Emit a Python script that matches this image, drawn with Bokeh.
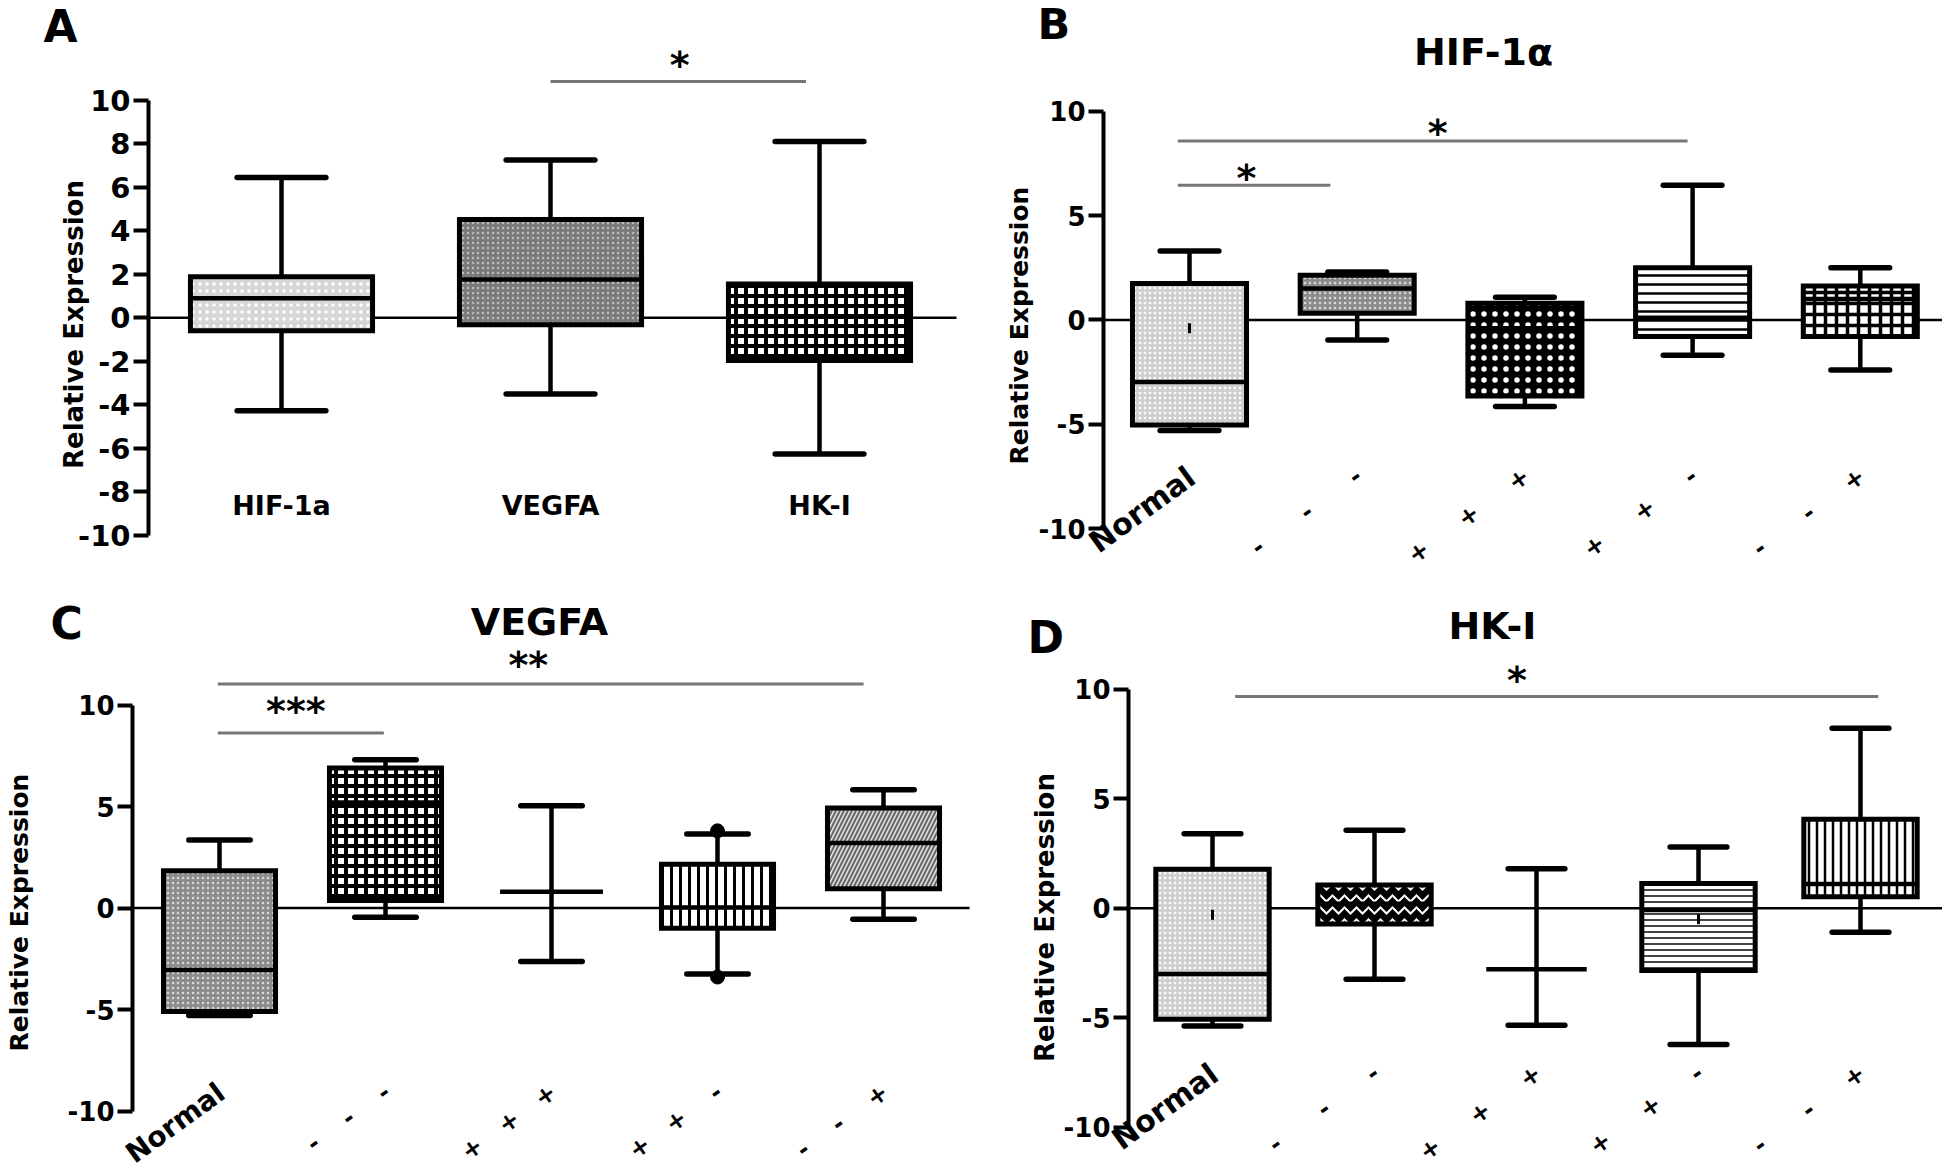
import math
from bokeh.plotting import figure
from bokeh.models import Range1d, FixedTicker, Label, ColumnDataSource
from bokeh.layouts import column, row
from bokeh.embed import file_html
from bokeh.resources import INLINE

FONT = "DejaVu Sans"

# ---------------- data ----------------
A_labels = ["HIF-1a", "VEGFA", "HK-I"]
A_lo  = [-4.27, -3.50, -6.26]
A_q1  = [-0.60, -0.32, -1.96]
A_med = [0.90, 1.76, 0.05]
A_q3  = [1.89, 4.52, 1.55]
A_hi  = [6.45, 7.25, 8.10]
A_sig_from = [2.00]
A_sig_to   = [2.95]
A_sig_y    = [10.85]
A_sig_text = ["*"]
A_star_x   = [2.48]
A_star_y   = [11.60]

group_labels = ["Normal", "- - -", "+ + +", "+ + -", "- - +"]

B_title = "HIF-1α"
B_lo  = [-5.30, -0.96, -4.15, -1.70, -2.40]
B_q1  = [-5.04, 0.32, -3.65, -0.80, -0.80]
B_med = [-2.98, 1.50, -0.40, 0.10, 1.00]
B_q3  = [1.75, 2.14, 0.80, 2.50, 1.62]
B_hi  = [3.30, 2.30, 1.08, 6.45, 2.50]
B_mean_x = [1]
B_mean_y = [-0.40]
B_sig_from = [0.93, 0.93]
B_sig_to   = [1.84, 3.97]
B_sig_y    = [6.45, 8.58]
B_sig_text = ["*", "*"]
B_star_x   = [1.34, 2.48]
B_star_y   = [6.80, 8.95]

C_title = "VEGFA"
C_lo  = [-5.30, -0.45, -2.63, -3.25, -0.55]
C_q1  = [-5.10, 0.37, 0.80, -1.00, 0.95]
C_med = [-3.05, 5.20, 0.80, 0.02, 3.20]
C_q3  = [1.84, 6.90, 0.80, 2.15, 4.93]
C_hi  = [3.35, 7.30, 5.04, 3.65, 5.82]
C_out_x = [4, 4]
C_out_y = [3.80, -3.40]
C_sig_from = [0.99, 0.99]
C_sig_to   = [1.99, 4.88]
C_sig_y    = [8.62, 11.03]
C_sig_text = ["***", "**"]
C_star_x   = [1.46, 2.86]
C_star_y   = [9.70, 11.97]

D_title = "HK-I"
D_lo  = [-5.38, -3.24, -5.35, -6.22, -1.10]
D_q1  = [-5.07, -0.72, -2.79, -2.84, 0.52]
D_med = [-3.00, 0.20, -2.79, -0.08, 1.10]
D_q3  = [1.78, 1.06, -2.79, 1.13, 4.06]
D_hi  = [3.40, 3.56, 1.80, 2.79, 8.22]
D_mean_x = [1, 4]
D_mean_y = [-0.30, -0.50]
D_sig_from = [1.14]
D_sig_to   = [5.11]
D_sig_y    = [9.67]
D_sig_text = ["*"]
D_star_x   = [2.88]
D_star_y   = [10.40]

# ---------------- geometry (page pixels) ----------------
# cx, cy, w, h: canvas; L: y-axis line; R: right end of zero line
# c1: pixel of first category, s: pixels per category; zero: pixel of y=0; pxu: pixels per y unit
GEOM = {
    "A": dict(cx=0, cy=0, w=972, h=580, L=148, R=956, c1=281.0, s=269.0, zero=317.3, pxu=21.77),
    "B": dict(cx=972, cy=0, w=970, h=580, L=1103, R=1942, c1=1189.0, s=167.7, zero=319.4, pxu=20.86),
    "C": dict(cx=0, cy=580, w=972, h=594, L=132, R=969, c1=219.0, s=166.0, zero=907.5, pxu=20.3),
    "D": dict(cx=972, cy=580, w=970, h=594, L=1128, R=1942, c1=1212.0, s=162.0, zero=907.7, pxu=21.9),
}


def X(g, px):
    return 1 + (px - g["c1"]) / g["s"]


def Y(g, py):
    return (g["zero"] - py) / g["pxu"]


def make_fig(g, ticks, tick_size):
    p = figure(width=g["w"], height=g["h"],
               x_range=Range1d(X(g, g["cx"]), X(g, g["cx"] + g["w"])),
               y_range=Range1d(Y(g, g["cy"] + g["h"]), Y(g, g["cy"])),
               x_axis_location=None, y_axis_location="left",
               output_backend="svg", toolbar_location=None,
               min_border=0, min_border_left=0, min_border_right=0,
               min_border_top=0, min_border_bottom=0,
               background_fill_color="white", border_fill_color="white")
    p.outline_line_color = None
    p.xgrid.visible = False
    p.ygrid.visible = False
    ax = p.yaxis[0]
    ax.fixed_location = X(g, g["L"])
    ax.bounds = (-10, 10)
    ax.ticker = FixedTicker(ticks=ticks)
    ax.major_label_overrides = {t: str(t) for t in ticks}
    ax.minor_tick_line_color = None
    ax.axis_line_width = 4
    ax.axis_line_color = "black"
    ax.major_tick_line_width = 4
    ax.major_tick_line_color = "black"
    ax.major_tick_out = 15
    ax.major_tick_in = 0
    ax.major_label_standoff = 3
    ax.major_label_text_font = FONT
    ax.major_label_text_font_style = "bold"
    ax.major_label_text_font_size = f"{tick_size}px"
    ax.major_label_text_color = "black"
    # zero line from the axis to the right end
    p.segment(x0=[X(g, g["L"])], y0=[0], x1=[X(g, g["R"])], y1=[0],
              line_color="black", line_width=2.5)
    return p


def draw_boxes(p, lo, q1, med, q3, hi, styles, bw, cw, nobox_w=0.62):
    n = len(lo)
    xs = list(range(1, n + 1))
    p.segment(x0=xs, y0=lo, x1=xs, y1=q1, line_width=4.5, line_color="black")
    p.segment(x0=xs, y0=q3, x1=xs, y1=hi, line_width=4.5, line_color="black")
    for ys in (lo, hi):
        p.segment(x0=[x - cw / 2 for x in xs], y0=ys, x1=[x + cw / 2 for x in xs], y1=ys,
                  line_width=5.5, line_color="black", line_cap="round")
    idx = [i for i in range(n) if q3[i] > q1[i]]
    src = ColumnDataSource(dict(
        left=[xs[i] - bw / 2 for i in idx], right=[xs[i] + bw / 2 for i in idx],
        top=[q3[i] for i in idx], bottom=[q1[i] for i in idx],
        fill=[styles[i][0] for i in idx], hp=[styles[i][1] for i in idx],
        hc=[styles[i][2] for i in idx], hs=[styles[i][3] for i in idx],
        hw=[styles[i][4] for i in idx]))
    p.quad(left="left", right="right", top="top", bottom="bottom", source=src,
           fill_color="fill", hatch_pattern="hp", hatch_color="hc", hatch_scale="hs",
           hatch_weight="hw", line_color="black", line_width=5, line_join="miter")
    mw = [bw if q3[i] > q1[i] else nobox_w for i in range(n)]
    p.segment(x0=[xs[i] - mw[i] / 2 for i in range(n)], y0=med,
              x1=[xs[i] + mw[i] / 2 for i in range(n)], y1=med,
              line_width=4.5, line_color="black")


def draw_means(p, mx, my):
    p.scatter(mx, my, marker="dash", angle=math.pi / 2, size=10, line_width=3,
              line_color="black")


def draw_sig(p, g, x0, x1, y, texts, sx, sy, fs=38):
    p.segment(x0=x0, y0=y, x1=x1, y1=y, line_color="#777777", line_width=3)
    for t, a, b in zip(texts, sx, sy):
        p.add_layout(Label(x=a, y=b, text=t, text_align="center",
                           text_baseline="middle", text_font=FONT, text_font_style="bold",
                           text_font_size=f"{fs}px", text_color="black"))


def text_at(p, g, px, py, text, fs, align="left", baseline="alphabetic", angle=0.0):
    p.add_layout(Label(x=X(g, px), y=Y(g, py), text=text, text_align=align,
                       text_baseline=baseline, angle=angle, text_font=FONT,
                       text_font_style="bold", text_font_size=f"{fs}px", text_color="black"))


ADV = {"-": 0.415, "+": 0.838}
NBSP_ADV = 0.348


def spaced(label, fs, gap_px):
    chars = label.split(" ")
    out = chars[0]
    for a, b in zip(chars[:-1], chars[1:]):
        n = max(1, round((gap_px / fs - (ADV[a] + ADV[b]) / 2) / NBSP_ADV))
        out += "\u00a0" * n + b
    return out


ANG = math.radians(36)


def group_axis_labels(p, g, anchor_py, normal_fs, mark_fs, gap_px):
    for i, lab in enumerate(group_labels):
        if lab == "Normal":
            txt, fs = lab, normal_fs
        else:
            txt, fs = spaced(lab, mark_fs, gap_px), mark_fs
        p.add_layout(Label(x=1 + i + 2 / g["s"], y=Y(g, anchor_py), text=txt, angle=ANG,
                           text_align="right", text_baseline="middle", text_font=FONT,
                           text_font_style="bold", text_font_size=f"{fs}px",
                           text_color="black"))


STIPPLE_LIGHT = ("#cfcfcf", "dot", "#ffffff", 5, 1)
STIPPLE_MID = ("#8c8c8c", "dot", "#d8d8d8", 5, 1)
CHECKER_DARK = ("#000000", "dot", "#ffffff", 11, 1)
CHECKER = ("#ffffff", "cross", "#000000", 10, 4)

# ---------------- panel A ----------------
gA = GEOM["A"]
pA = make_fig(gA, [-10, -8, -6, -4, -2, 0, 2, 4, 6, 8, 10], 29)
A_styles = [("#d6d6d6", "dot", "#ffffff", 7, 1), ("#7a7a7a", "dot", "#bdbdbd", 5, 1), CHECKER]
draw_boxes(pA, A_lo, A_q1, A_med, A_q3, A_hi, A_styles, 0.677, 0.33)
draw_sig(pA, gA, A_sig_from, A_sig_to, A_sig_y, A_sig_text, A_star_x, A_star_y)
for i, lab in enumerate(A_labels):
    pA.add_layout(Label(x=i + 1, y=-8.6, text=lab, text_align="center", text_baseline="middle",
                        text_font=FONT, text_font_style="bold", text_font_size="27px",
                        text_color="black"))
text_at(pA, gA, 43, 26, "A", 44)
text_at(pA, gA, 73, 324, "Relative Expression", 26, "center", "middle", math.pi / 2)

# ---------------- panel B ----------------
gB = GEOM["B"]
pB = make_fig(gB, [-10, -5, 0, 5, 10], 26)
B_styles = [STIPPLE_LIGHT, STIPPLE_MID, CHECKER_DARK,
            ("#ffffff", "horizontal_line", "#000000", 9, 2.5),
            ("#ffffff", "cross", "#000000", 11, 3.5)]
draw_boxes(pB, B_lo, B_q1, B_med, B_q3, B_hi, B_styles, 0.68, 0.35)
draw_means(pB, B_mean_x, B_mean_y)
draw_sig(pB, gB, B_sig_from, B_sig_to, B_sig_y, B_sig_text, B_star_x, B_star_y)
group_axis_labels(pB, gB, 473, 30, 24, 58)
text_at(pB, gB, 1037, 23, "B", 43)
text_at(pB, gB, 1483, 51, B_title, 38, "center")
text_at(pB, gB, 1019, 325, "Relative Expression", 25, "center", "middle", math.pi / 2)

# ---------------- panel C ----------------
gC = GEOM["C"]
pC = make_fig(gC, [-10, -5, 0, 5, 10], 26)
C_styles = [STIPPLE_MID, CHECKER, STIPPLE_MID,
            ("#ffffff", "vertical_line", "#000000", 9, 3),
            ("#e0e0e0", "right_diagonal_line", "#666666", 8, 2)]
draw_boxes(pC, C_lo, C_q1, C_med, C_q3, C_hi, C_styles, 0.675, 0.37)
pC.scatter(C_out_x, C_out_y, size=14, marker="circle", color="black")
draw_sig(pC, gC, C_sig_from, C_sig_to, C_sig_y, C_sig_text, C_star_x, C_star_y)
group_axis_labels(pC, gC, 1089, 28, 24, 46)
text_at(pC, gC, 50, 623, "C", 44)
text_at(pC, gC, 539, 621, C_title, 38, "center")
text_at(pC, gC, 19, 912, "Relative Expression", 25, "center", "middle", math.pi / 2)

# ---------------- panel D ----------------
gD = GEOM["D"]
pD = make_fig(gD, [-10, -5, 0, 5, 10], 26)
D_styles = [STIPPLE_LIGHT, ("#000000", "horizontal_wave", "#ffffff", 12, 2), STIPPLE_LIGHT,
            ("#ffffff", "horizontal_line", "#444444", 6, 2),
            ("#ffffff", "vertical_line", "#000000", 8, 2.5)]
draw_boxes(pD, D_lo, D_q1, D_med, D_q3, D_hi, D_styles, 0.70, 0.35)
draw_means(pD, D_mean_x, D_mean_y)
draw_sig(pD, gD, D_sig_from, D_sig_to, D_sig_y, D_sig_text, D_star_x, D_star_y)
group_axis_labels(pD, gD, 1070, 30, 24, 58)
text_at(pD, gD, 1027, 637, "D", 44)
text_at(pD, gD, 1492, 625, D_title, 38, "center")
text_at(pD, gD, 1044, 917, "Relative Expression", 26, "center", "middle", math.pi / 2)

layout = column(row(pA, pB), row(pC, pD))
open("out.html", "w").write(file_html(layout, INLINE))
